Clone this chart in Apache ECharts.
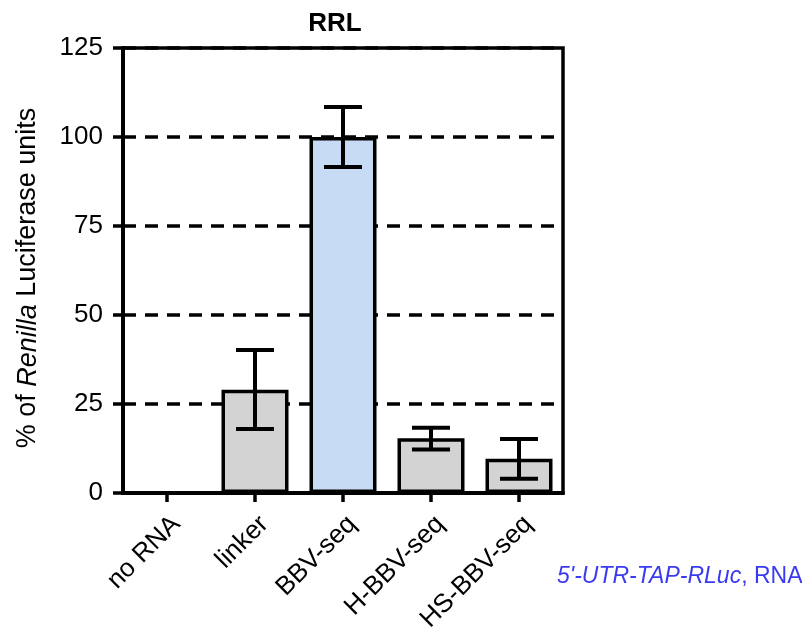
<!DOCTYPE html>
<html><head><meta charset="utf-8">
<script src="https://cdn.jsdelivr.net/npm/echarts@6/dist/echarts.min.js"></script>
<style>html,body{margin:0;padding:0;background:#fff}#c{width:802px;height:635px}</style>
</head><body><div id="c"></div>
<script>
const categories = ['no RNA', 'linker', 'BBV-seq', 'H-BBV-seq', 'HS-BBV-seq'];
const meanValues = [0, 29, 100, 15.4, 9.6];
const errLow = [0, 18.0, 91.6, 12.2, 4.0];
const errHigh = [0, 40.2, 108.4, 18.3, 15.2];
const barColors = ['#d3d3d3', '#d3d3d3', '#c7dcf4', '#d3d3d3', '#d3d3d3'];
const yTicks = [0, 25, 50, 75, 100, 125];

const FONT = 'Liberation Sans, Arial, sans-serif';
const chart = echarts.init(document.getElementById('c'));
const errData = categories.map((c, i) => [i, errLow[i], errHigh[i]]).filter((d, i) => meanValues[i] > 0);

chart.setOption({
  animation: false,
  backgroundColor: '#fff',
  title: {
    text: 'RRL', left: 330, top: 6, textAlign: 'center',
    textStyle: { fontFamily: FONT, fontWeight: 'bold', fontSize: 26, color: '#000' }
  },
  grid: {
    left: 123, right: 239, top: 48, bottom: 142,
    show: true, borderColor: '#000', borderWidth: 3.5, backgroundColor: 'transparent'
  },
  xAxis: {
    type: 'category', data: categories,
    axisLine: { lineStyle: { color: '#000', width: 4 } },
    axisTick: { show: true, alignWithLabel: true, length: 9, lineStyle: { color: '#000', width: 3.5 } },
    axisLabel: { rotate: 45, margin: 18, verticalAlign: 'top', fontFamily: FONT, fontSize: 26, color: '#000' }
  },
  yAxis: {
    type: 'value', min: yTicks[0], max: yTicks[yTicks.length - 1], interval: 25,
    axisLine: { show: true, lineStyle: { color: '#000', width: 4 } },
    axisTick: { show: true, length: 10, lineStyle: { color: '#000', width: 3.5 } },
    axisLabel: { margin: 20, fontFamily: FONT, fontSize: 26, color: '#000' },
    splitLine: { show: true, lineStyle: { color: '#000', width: 3.5, type: [13, 9] } }
  },
  series: [
    {
      type: 'bar', barWidth: 67,
      data: meanValues.map((v, i) => ({ value: v, itemStyle: { color: barColors[i] } })),
      itemStyle: { borderColor: '#000', borderWidth: 3.5 },
      z: 3
    },
    {
      type: 'custom', z: 5,
      data: errData,
      encode: { x: 0, y: [1, 2] },
      renderItem: function (params, api) {
        const x = api.value(0);
        const lo = api.coord([x, api.value(1)]);
        const hi = api.coord([x, api.value(2)]);
        const hw = 19;
        const st = { stroke: '#000', lineWidth: 4 };
        return {
          type: 'group',
          children: [
            { type: 'line', shape: { x1: lo[0], y1: lo[1], x2: hi[0], y2: hi[1] }, style: st },
            { type: 'line', shape: { x1: lo[0] - hw, y1: lo[1], x2: lo[0] + hw, y2: lo[1] }, style: st },
            { type: 'line', shape: { x1: hi[0] - hw, y1: hi[1], x2: hi[0] + hw, y2: hi[1] }, style: st }
          ]
        };
      }
    }
  ],
  graphic: [
    {
      type: 'text', x: 28, y: 278, rotation: Math.PI / 2,
      style: {
        text: '{a|% of }{b|Renilla}{a| Luciferase units}',
        align: 'center', verticalAlign: 'middle',
        rich: {
          a: { fontFamily: FONT, fontSize: 27, fill: '#000' },
          b: { fontFamily: FONT, fontSize: 27, fill: '#000', fontStyle: 'italic' }
        }
      }
    },
    {
      type: 'text', left: 557, top: 565,
      style: {
        text: '{i|5\'-UTR-TAP-RLuc}{n|, RNA}',
        rich: {
          i: { fontFamily: FONT, fontSize: 23, fontStyle: 'italic', fill: '#3a3af2' },
          n: { fontFamily: FONT, fontSize: 23, fill: '#3a3af2' }
        }
      }
    }
  ]
});
</script>
</body></html>
